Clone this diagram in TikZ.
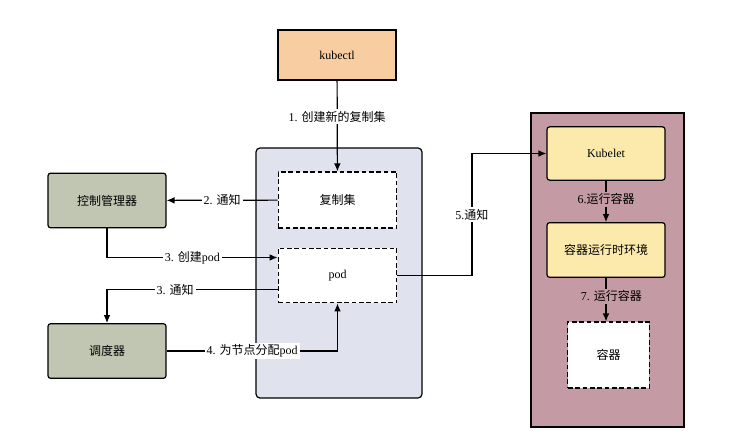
\documentclass[tikz,border=0pt]{standalone}
\usepackage{fontspec}
\setmainfont{Liberation Serif}
\newfontfamily\cjk{Noto Sans CJK SC}
\newcommand{\zh}[1]{{\cjk #1}}
\usetikzlibrary{arrows.meta,calc}
\definecolor{peach}{RGB}{248,205,162}
\definecolor{sage}{RGB}{192,198,178}
\definecolor{mist}{RGB}{224,227,238}
\definecolor{mauve}{RGB}{196,154,164}
\definecolor{butter}{RGB}{252,234,172}

\begin{document}
\begin{tikzpicture}
      [x=0.75pt,y=-0.75pt,line width=0.9pt,>={Latex[length=6pt,width=5pt]},
       font=\fontsize{9}{11}\selectfont,
       main node/.style={draw,rounded corners=2pt,align=center,inner sep=0pt,minimum width=88.5pt,minimum height=41pt},
       dash node/.style={draw,dash pattern=on 3.5pt off 2pt,fill=white,align=center,inner sep=0pt},
       lbl/.style={fill=white,inner sep=1.5pt}]
        \useasboundingbox (0,0) rectangle (731,445);

        % containers
        \node[draw,rounded corners=3pt,fill=mist,minimum width=124.5pt,minimum height=187.5pt] (master) at (339,273) {};
        \node[draw,fill=mauve,minimum width=114.75pt,minimum height=235.5pt] (worker) at (607.5,270) {};

        \node[draw,fill=peach,minimum width=88.5pt,minimum height=37.5pt] (k) at (337,55) {kubectl};
        \node[dash node,minimum width=89pt,minimum height=42pt] (rs) at (337.5,200) {\zh{复制集}};
        \node[dash node,minimum width=89pt,minimum height=41pt] (pod) at (337.5,275.5) {pod};
        \node[main node,fill=sage] (cm) at (107,200.5) {\zh{控制管理器}};
        \node[main node,fill=sage] (sch) at (107,351) {\zh{调度器}};
        \node[main node,fill=butter,minimum height=40pt] (kub) at (606,153.5) {Kubelet};
        \node[main node,fill=butter] (rt) at (606,250) {\zh{容器运行时环境}};
        \node[dash node,minimum width=61pt,minimum height=49.5pt] (box) at (608.5,355) {\zh{容器}};

        \draw[->] (k) -- node[lbl,pos=0.4] {1. \zh{创建新的复制集}} (rs);
        \draw[->] (rs) -- node[lbl] {2. \zh{通知}} (cm);
        \draw[->] (cm.south) |- node[lbl,pos=0.75] {3. \zh{创建}pod} ([yshift=13.5pt]pod.west);
        \draw[->] ([yshift=-10.5pt]pod.west) -| node[lbl,pos=0.3] {3. \zh{通知}} (sch.north);
        \draw[->] (sch.east) -| node[lbl,pos=0.25] {4. \zh{为节点分配}pod} (pod.south);
        \draw[->] (pod.east) -| ($(pod.east)!0.5!(kub.west)$) node[lbl] {5.\zh{通知}} |- (kub.west);
        \draw[->] (kub) -- node[lbl,fill=mauve,pos=0.45] {6.\zh{运行容器}} (rt);
        \draw[->] (rt.south) -- node[lbl,fill=mauve,pos=0.42,xshift=4pt] {7. \zh{运行容器}} (box.north -| rt.south);

      \end{tikzpicture}
\end{document}
